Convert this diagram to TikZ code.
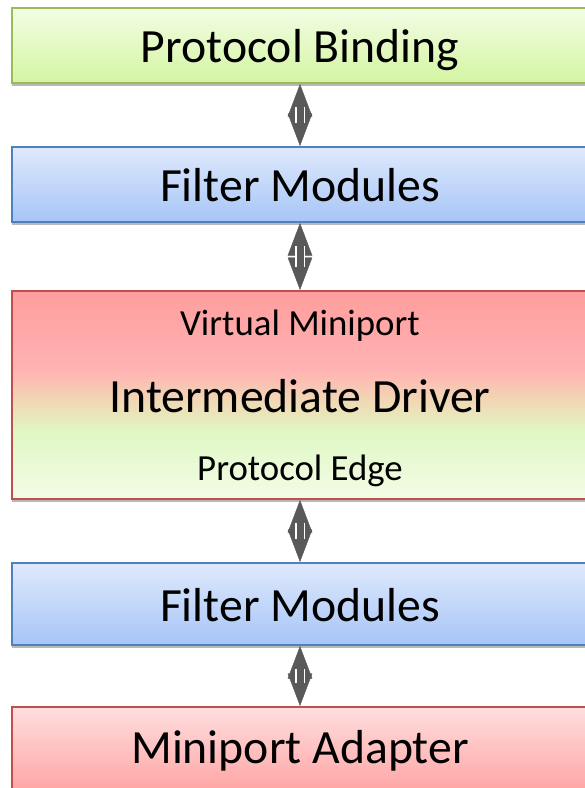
\documentclass[tikz,border=0pt]{standalone}
\usepackage{fontspec}
\setmainfont{Carlito}
\usetikzlibrary{arrows.meta,shadows}
\definecolor{pbtop}{HTML}{F2FDE4}
\definecolor{pbbot}{HTML}{D4F5A2}
\definecolor{pbline}{HTML}{9BBB59}
\definecolor{fmtop}{HTML}{DFE9FC}
\definecolor{fmbot}{HTML}{A6C5F7}
\definecolor{fmline}{HTML}{4F81BD}
\definecolor{redline}{HTML}{C0504D}
\definecolor{matop}{HTML}{FFDEDE}
\definecolor{mabot}{HTML}{FFA2A2}
\definecolor{idtop}{HTML}{FF9D9D}
\definecolor{idpink}{HTML}{FFB3B3}
\definecolor{idtan}{HTML}{F2D6B4}
\definecolor{idgreen}{HTML}{E0F8C4}
\definecolor{idbot}{HTML}{F3FCE8}
\definecolor{arrgray}{HTML}{595959}
\pgfdeclareverticalshading{idshade}{100bp}{color(0bp)=(idbot); color(25bp)=(idbot); color(41bp)=(idgreen); color(49bp)=(idtan); color(56bp)=(idpink); color(75bp)=(idtop); color(100bp)=(idtop)}
\begin{document}
\begin{tikzpicture}[x=1pt,y=-1pt,
  box/.style={rectangle, line width=2pt, minimum width=576pt, inner sep=0pt,
    drop shadow={shadow xshift=0pt, shadow yshift=-3pt, opacity=0.28, fill=black}},
  greenbox/.style={box, draw=pbline, top color=pbtop, bottom color=pbbot},
  bluebox/.style={box, draw=fmline, top color=fmtop, bottom color=fmbot},
  redbox/.style={box, draw=redline, top color=matop, bottom color=mabot},
  idbox/.style={box, draw=redline, shade, shading=idshade},
  lbl/.style={inner sep=0pt, anchor=base, font=\fontsize{47.7}{50}\selectfont},
  slbl/.style={inner sep=0pt, anchor=base, font=\fontsize{36.8}{40}\selectfont},
  dblarr/.style={draw=arrgray, fill=arrgray, line width=0.4pt,
    {Triangle[length=32.5pt, width=24.5pt]}-{Triangle[length=32.5pt, width=24.5pt]}},
  shaft/.style={draw=arrgray, line width=7pt, shorten >=23pt, shorten <=23pt,
    preaction={draw=white, line width=10pt}}
]
\useasboundingbox (0,0) rectangle (585,788);
\fill[white] (0,0) rectangle (585,788);

\node[greenbox, minimum height=75pt] (pb) at (300,45.5) {};
\node[bluebox, minimum height=75pt] (fm1) at (300,184.5) {};
\node[idbox, minimum height=208pt] (id) at (300,395) {};
\node[bluebox, minimum height=82pt] (fm2) at (300,604) {};
\node[redbox, minimum height=88pt] (ma) at (300,751) {};

\node[lbl] (pbt) at (300,62) {Protocol Binding};
\node[lbl] (fm1t) at (300,201.7) {Filter Modules};
\node[slbl] (vmt) at (300,335) {Virtual Miniport};
\node[lbl] (idt) at (300,412.3) {Intermediate Driver};
\node[slbl] (pet) at (300,480) {Protocol Edge};
\node[lbl] (fm2t) at (300,621.7) {Filter Modules};
\node[lbl] (mat) at (300,763.3) {Miniport Adapter};

\draw[dblarr] (pb.south) -- (fm1.north);
\draw[shaft] (pb.south) -- (fm1.north);
\draw[dblarr] (fm1.south) -- (id.north);
\draw[shaft] (fm1.south) -- (id.north);
\draw[dblarr] (id.south) -- (fm2.north);
\draw[shaft] (id.south) -- (fm2.north);
\draw[dblarr] (fm2.south) -- (ma.north);
\draw[shaft] (fm2.south) -- (ma.north);
\end{tikzpicture}
\end{document}
